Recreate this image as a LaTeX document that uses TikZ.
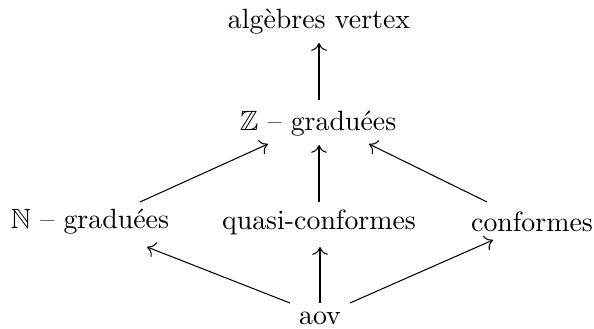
\documentclass[tikz,border=0pt]{standalone}
\usepackage{amssymb}
\usepackage{tikz}
\usetikzlibrary{arrows.meta, positioning, calc}

\begin{document}
\begin{tikzpicture}[
          x=0.0135cm, y=-0.0135cm,
          algnode/.style={inner sep=2pt, font=\fontsize{10.7}{13}\selectfont},
          arrow/.style={-{To[length=3pt,width=6pt]}, thin}
        ]
          \useasboundingbox (0,0) rectangle (594,329);

          % Top and middle
          \node[algnode] (vertex) at (319, 22) {algèbres vertex};
          \node[algnode] (zgrad) at (318, 124) {$\mathbb{Z}$ -- graduées};

          % Third row
          \node[algnode] (ngrad) at (90, 222) {$\mathbb{N}$ -- graduées};
          \node[algnode] (quasi) at (319, 222) {quasi-conformes};
          \node[algnode] (conf) at (532, 222) {conformes};

          % Bottom
          \node[algnode] (aov) at (320, 318) {aov};

          % Connections
          \draw[arrow] ($(zgrad)+(1,-24)$) -- ($(vertex)+(0,21)$);
          \draw[arrow] ($(ngrad)+(50,-20)$) -- ($(zgrad)+(-50,20)$);
          \draw[arrow] ($(quasi)+(0,-20)$) -- ($(zgrad)+(1,21)$);
          \draw[arrow] ($(conf)+(-45,-20)$) -- ($(zgrad)+(51,20)$);
          \draw[arrow] ($(aov)+(0,-15)$) -- ($(quasi)+(1,25)$);
          \draw[arrow] ($(aov)+(-30,-15)$) -- ($(ngrad)+(57,25)$);
          \draw[arrow] ($(aov)+(30,-15)$) -- ($(conf)+(-39,18)$);
        \end{tikzpicture}
\end{document}
